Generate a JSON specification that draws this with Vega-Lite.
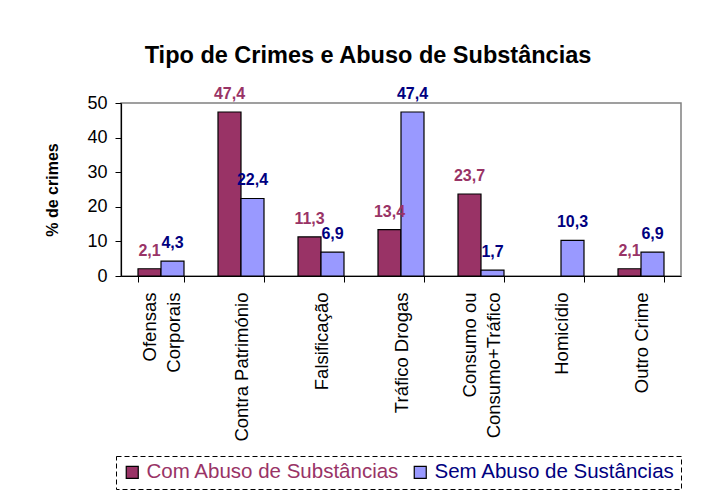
{
  "$schema": "https://vega.github.io/schema/vega-lite/v6.json",
  "autosize": {"type": "none"},
  "width": 560,
  "height": 173,
  "padding": {"left": 121, "top": 103, "right": 47, "bottom": 214},
  "background": "white",
  "title": {
    "text": "Tipo de Crimes e Abuso de Substâncias",
    "fontSize": 23.5,
    "fontWeight": "bold",
    "font": "Liberation Sans",
    "color": "black",
    "anchor": "middle",
    "dx": -33,
    "offset": 18
  },
  "data": {
    "values": [
      {"crime": "Ofensas Corporais", "series": "Com Abuso de Substâncias", "value": 2.1},
      {"crime": "Ofensas Corporais", "series": "Sem Abuso de Sustâncias", "value": 4.3},
      {"crime": "Contra Património", "series": "Com Abuso de Substâncias", "value": 47.4},
      {"crime": "Contra Património", "series": "Sem Abuso de Sustâncias", "value": 22.4},
      {"crime": "Falsificação", "series": "Com Abuso de Substâncias", "value": 11.3},
      {"crime": "Falsificação", "series": "Sem Abuso de Sustâncias", "value": 6.9},
      {"crime": "Tráfico Drogas", "series": "Com Abuso de Substâncias", "value": 13.4},
      {"crime": "Tráfico Drogas", "series": "Sem Abuso de Sustâncias", "value": 47.4},
      {"crime": "Consumo ou Consumo+Tráfico", "series": "Com Abuso de Substâncias", "value": 23.7},
      {"crime": "Consumo ou Consumo+Tráfico", "series": "Sem Abuso de Sustâncias", "value": 1.7},
      {"crime": "Homicídio", "series": "Sem Abuso de Sustâncias", "value": 10.3},
      {"crime": "Outro Crime", "series": "Com Abuso de Substâncias", "value": 2.1},
      {"crime": "Outro Crime", "series": "Sem Abuso de Sustâncias", "value": 6.9}
    ]
  },
  "encoding": {
    "x": {
      "field": "crime",
      "type": "nominal",
      "sort": ["Ofensas Corporais", "Contra Património", "Falsificação", "Tráfico Drogas", "Consumo ou Consumo+Tráfico", "Homicídio", "Outro Crime"],
      "scale": {"paddingInner": 0.425, "paddingOuter": 0.2125},
      "axis": {
        "title": null,
        "labelAngle": 270,
        "labelAlign": "right",
        "labelBaseline": "middle",
        "labelFontSize": 18.5,
        "labelLineHeight": 24,
        "labelPadding": 10,
        "labelLimit": 300,
        "tickBand": "extent",
        "tickSize": 6,
        "labelOffset": {"condition": {"test": "datum.value == 'Ofensas Corporais' || datum.value == 'Consumo ou Consumo+Tráfico'", "value": -12}, "value": 0},
        "labelExpr": "datum.value == 'Ofensas Corporais' ? ['Ofensas', 'Corporais'] : datum.value == 'Consumo ou Consumo+Tráfico' ? ['Consumo ou', 'Consumo+Tráfico'] : datum.value"
      }
    },
    "xOffset": {"field": "series", "type": "nominal", "sort": ["Com Abuso de Substâncias", "Sem Abuso de Sustâncias"]},
    "y": {
      "field": "value",
      "type": "quantitative",
      "scale": {"domain": [0, 50], "nice": false},
      "axis": {
        "title": "% de crimes",
        "titleFontSize": 16,
        "titleFontWeight": "bold",
        "titlePadding": 26,
        "values": [0, 10, 20, 30, 40, 50],
        "labelFontSize": 18,
        "labelPadding": 8,
        "tickSize": 6,
        "grid": false
      }
    }
  },
  "layer": [
    {
      "mark": {"type": "bar", "stroke": "black", "strokeWidth": 1.2},
      "encoding": {
        "color": {
          "field": "series",
          "type": "nominal",
          "scale": {"domain": ["Com Abuso de Substâncias", "Sem Abuso de Sustâncias"], "range": ["#993366", "#9999FF"]},
          "legend": {
            "title": null,
            "orient": "none",
            "direction": "horizontal",
            "legendX": -5,
            "legendY": 353,
            "symbolType": "square",
            "symbolSize": 144,
            "symbolStrokeColor": "black",
            "symbolStrokeWidth": 1.2,
            "labelFontSize": 20.5,
            "labelLimit": 400,
            "columnPadding": 10,
            "padding": 6,
            "symbolOffset": 0,
            "labelOffset": 4,
            "encode": {
              "labels": {"update": {"fill": {"signal": "datum.value == 'Com Abuso de Substâncias' ? '#993366' : '#000080'"}}},
              "legend": {"update": {"stroke": {"value": "black"}, "strokeDash": {"value": [5, 3]}, "strokeWidth": {"value": 1}}}
            }
          }
        }
      }
    },
    {
      "mark": {"type": "text", "baseline": "bottom", "dy": -10, "fontSize": 16, "fontWeight": "bold", "font": "Liberation Sans"},
      "encoding": {
        "text": {"field": "value", "type": "quantitative", "format": ".1f"},
        "color": {
          "condition": {"test": "datum.series == 'Com Abuso de Substâncias'", "value": "#993366"},
          "value": "#000080"
        }
      }
    }
  ],
  "config": {
    "font": "Liberation Sans",
    "locale": {"number": {"decimal": ",", "thousands": ".", "grouping": [3], "currency": ["", ""]}},
    "view": {"stroke": "#808080", "strokeWidth": 1.5},
    "axis": {"domainColor": "black", "tickColor": "black", "labelColor": "black", "titleColor": "black", "domainWidth": 1.2}
  }
}
